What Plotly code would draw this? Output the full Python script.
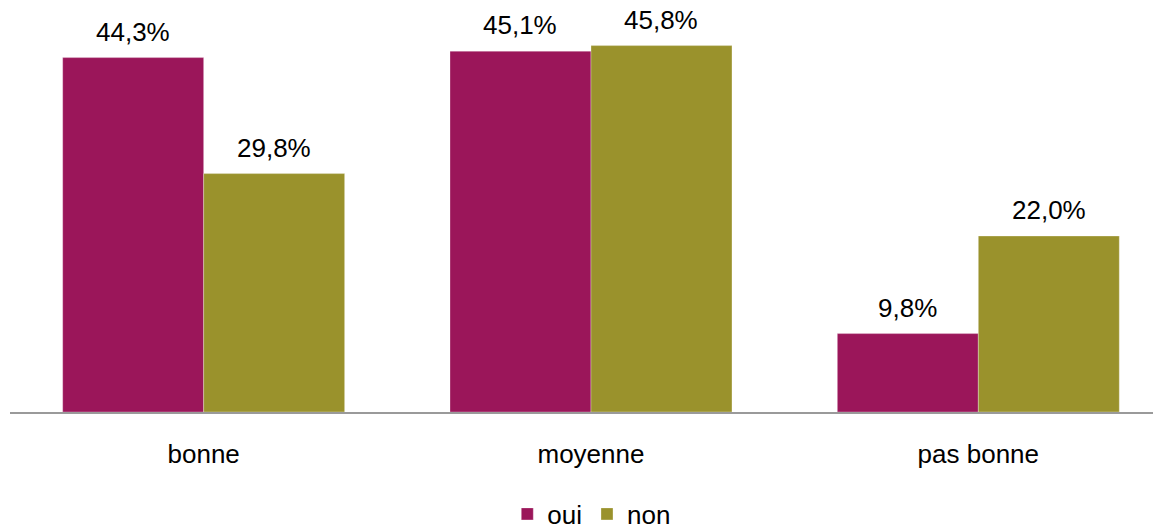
import plotly.graph_objects as go

categories = ["bonne", "moyenne", "pas bonne"]
oui_values = [44.3, 45.1, 9.8]
non_values = [29.8, 45.8, 22.0]
series_names = ["oui", "non"]
colors = ["#9B165A", "#9A922C"]

FONT = "Liberation Sans, Arial"

def fmt(v):
    return f"{v:.1f}".replace(".", ",") + "%"

fig = go.Figure()
for name, vals, col in zip(series_names, [oui_values, non_values], colors):
    fig.add_trace(go.Bar(
        x=categories, y=vals, name=name,
        marker=dict(color=col, line=dict(color="rgba(255,255,255,0.6)", width=0.5)),
    ))

annotations = []
for vals, shift in [(oui_values, -70.5), (non_values, 70.5)]:
    for c, v in zip(categories, vals):
        annotations.append(dict(
            x=c, y=v, text=fmt(v), showarrow=False, xref="x", yref="y",
            yanchor="bottom", yshift=9, xshift=shift,
            font=dict(family=FONT, size=26, color="black"),
        ))

fig.update_layout(
    width=1153, height=532,
    margin=dict(l=10, r=0, t=12, b=120, autoexpand=False),
    paper_bgcolor="white", plot_bgcolor="white",
    barmode="group", bargap=0.272, bargroupgap=0,
    font=dict(family=FONT, size=26, color="black"),
    showlegend=True,
    legend=dict(orientation="h", x=0.509, xanchor="center",
                yref="paper", y=-0.255, yanchor="middle",
                font=dict(size=26), itemwidth=30, traceorder="normal"),
    annotations=annotations,
    xaxis=dict(range=[-0.5, 2.451], showline=True, linecolor="#9A9A9A", linewidth=2,
               ticks="", ticklabelstandoff=18, tickfont=dict(size=26), automargin=False),
    yaxis=dict(range=[0, 50], showgrid=False, showticklabels=False, zeroline=False,
               showline=False, automargin=False),
)

fig.write_html("out.html", config={"displayModeBar": False},
               post_script="document.body.style.margin='0';")
